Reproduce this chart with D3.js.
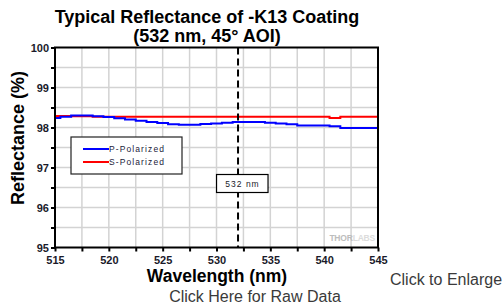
<!DOCTYPE html>
<html>
<head>
<meta charset="utf-8">
<script src="https://cdn.jsdelivr.net/npm/d3@7"></script>
<style>
  body { margin: 0; background: #fff; }
  svg { display: block; font-family: Arial, "Liberation Sans", sans-serif; }
</style>
</head>
<body>
<div id="chart"></div>
<script>
let svgWidth = 503;
let svgHeight = 308;

let margin = { top: 47.5, right: 125, bottom: 60.5, left: 55 };
let width = 378 - margin.left;
let height = 200;

// data
let wavelength = [515, 516, 517, 518, 519, 520, 521, 522, 523, 524, 525, 526, 527, 528, 529, 530,
  531, 532, 533, 534, 535, 536, 537, 538, 539, 540, 541, 542, 543, 544, 545];
let pPolarized = [98.24, 98.27, 98.30, 98.30, 98.28, 98.26, 98.23, 98.20, 98.17, 98.14, 98.11, 98.08,
  98.07, 98.07, 98.09, 98.10, 98.12, 98.14, 98.14, 98.14, 98.12, 98.10, 98.08, 98.05, 98.05, 98.05,
  98.03, 97.99, 97.99, 97.99, 97.99];
let sPolarized = [98.29, 98.29, 98.28, 98.28, 98.27, 98.27, 98.27, 98.27, 98.27, 98.27, 98.27, 98.27,
  98.27, 98.27, 98.27, 98.27, 98.27, 98.27, 98.27, 98.27, 98.27, 98.27, 98.27, 98.27, 98.27, 98.27,
  98.24, 98.27, 98.27, 98.27, 98.27];
let xTicks = [515, 520, 525, 530, 535, 540, 545];
let yTicks = [95, 96, 97, 98, 99, 100];
let markerWl = 532;

let svg = d3.select("#chart")
  .append("svg")
  .attr("width", svgWidth)
  .attr("height", svgHeight);

let x = d3.scaleLinear().domain([515, 545]).range([0, width]);
let y = d3.scaleLinear().domain([95, 100]).range([height, 0]);

let g = svg.append("g")
  .attr("transform", `translate(${margin.left}, ${margin.top})`);

// grid
g.append("g")
  .selectAll("line.vg")
  .data(d3.range(517.5, 545, 2.5))
  .enter().append("line")
  .attr("x1", d => x(d)).attr("x2", d => x(d))
  .attr("y1", 0).attr("y2", height)
  .attr("stroke", "#d3d3d3").attr("stroke-width", 1.5);

g.append("g")
  .selectAll("line.hg")
  .data(d3.range(95.5, 100, 0.5))
  .enter().append("line")
  .attr("x1", 0).attr("x2", width)
  .attr("y1", d => y(d)).attr("y2", d => y(d))
  .attr("stroke", "#d3d3d3").attr("stroke-width", 1.5);

// watermark
let logo = g.append("text")
  .attr("x", width - 3)
  .attr("y", height - 7)
  .attr("text-anchor", "end")
  .attr("font-size", "8.5px")
  .attr("font-weight", "bold")
  .attr("letter-spacing", "-0.2px");
logo.append("tspan").attr("fill", "#bdbdbd").text("THOR");
logo.append("tspan").attr("fill", "#dcdcdc").text("LABS");

// axes
let xAxis = d3.axisBottom(x).tickValues(d3.range(515, 545.1, 2.5)).tickSize(4)
  .tickFormat(d => xTicks.includes(d) ? d : "");
let yAxis = d3.axisLeft(y).tickValues(d3.range(95, 100.1, 0.5)).tickSize(4)
  .tickFormat(d => yTicks.includes(d) ? d : "");

let xg = g.append("g")
  .attr("transform", `translate(0, ${height})`)
  .call(xAxis);
let yg = g.append("g").call(yAxis);

[xg, yg].forEach(a => {
  a.select(".domain").remove();
  a.selectAll("line").attr("stroke", "#000").attr("stroke-width", 2);
  a.selectAll("text")
    .attr("font-size", "11px")
    .attr("font-weight", "bold")
    .attr("fill", "#1a1a2a")
    .attr("font-family", "Arial, 'Liberation Sans', sans-serif");
});
xg.selectAll("text").attr("y", 6).attr("dy", "0.95em");
yg.selectAll("text").attr("x", -6).attr("dy", "0.35em");

// lines
let line = d3.line().curve(d3.curveStep);
let series = [
  { vals: pPolarized, color: "#0000ff" },
  { vals: sPolarized, color: "#ff0000" }
];
series.slice().reverse().forEach(s => {
  g.append("path")
    .attr("d", line(wavelength.map((w, i) => [x(w), y(s.vals[i])])))
    .attr("fill", "none")
    .attr("stroke", s.color)
    .attr("stroke-width", 2);
});

// 532 nm marker
g.append("line")
  .attr("x1", x(markerWl)).attr("x2", x(markerWl))
  .attr("y1", 0).attr("y2", height)
  .attr("stroke", "#000").attr("stroke-width", 2)
  .attr("stroke-dasharray", "7,4");

g.append("rect")
  .attr("x", x(markerWl) - 21.5).attr("y", 127)
  .attr("width", 51.5).attr("height", 18)
  .attr("fill", "#fff").attr("stroke", "#000").attr("stroke-width", 1.2);
g.append("text")
  .attr("x", x(markerWl) + 4.5).attr("y", 139)
  .attr("text-anchor", "middle")
  .attr("font-size", "8.5px")
  .attr("letter-spacing", "1px")
  .attr("fill", "#1a1a2a")
  .text(`${markerWl} nm`);

// frame
g.append("rect")
  .attr("width", width).attr("height", height)
  .attr("fill", "none").attr("stroke", "#000").attr("stroke-width", 2);

// legend
let legend = g.append("g").attr("transform", "translate(16, 89.5)");
legend.append("rect")
  .attr("width", 111).attr("height", 37)
  .attr("fill", "#fff").attr("stroke", "#222").attr("stroke-width", 1.2);
let legendItems = [["P-Polarized", "#0000ff"], ["S-Polarized", "#ff0000"]];
legendItems.forEach((it, i) => {
  let ly = 12 + i * 13;
  legend.append("line")
    .attr("x1", 12).attr("x2", 38).attr("y1", ly).attr("y2", ly)
    .attr("stroke", it[1]).attr("stroke-width", 2);
  legend.append("text")
    .attr("x", 38).attr("y", ly + 3)
    .attr("font-size", "8.5px")
    .attr("letter-spacing", "1.1px")
    .attr("fill", "#1a1a3a")
    .text(it[0]);
});

// titles
svg.append("text")
  .attr("x", 207).attr("y", 23)
  .attr("text-anchor", "middle")
  .attr("font-size", "18px").attr("font-weight", "bold")
  .attr("fill", "#000")
  .text("Typical Reflectance of -K13 Coating");
svg.append("text")
  .attr("x", 207).attr("y", 41.5)
  .attr("text-anchor", "middle")
  .attr("font-size", "18px").attr("font-weight", "bold")
  .attr("fill", "#000")
  .text("(532 nm, 45° AOI)");

svg.append("text")
  .attr("transform", `translate(24, 138) rotate(-90)`)
  .attr("text-anchor", "middle")
  .attr("font-size", "18px").attr("font-weight", "bold")
  .text("Reflectance (%)");
svg.append("text")
  .attr("x", 217).attr("y", 282)
  .attr("text-anchor", "middle")
  .attr("font-size", "17.5px").attr("font-weight", "bold")
  .text("Wavelength (nm)");

// page links
svg.append("text")
  .attr("x", 390).attr("y", 285)
  .attr("font-size", "16px").attr("fill", "#3a3a3a")
  .text("Click to Enlarge");
svg.append("text")
  .attr("x", 255).attr("y", 302)
  .attr("text-anchor", "middle")
  .attr("font-size", "16px").attr("fill", "#3a3a3a")
  .text("Click Here for Raw Data");
</script>
</body>
</html>
